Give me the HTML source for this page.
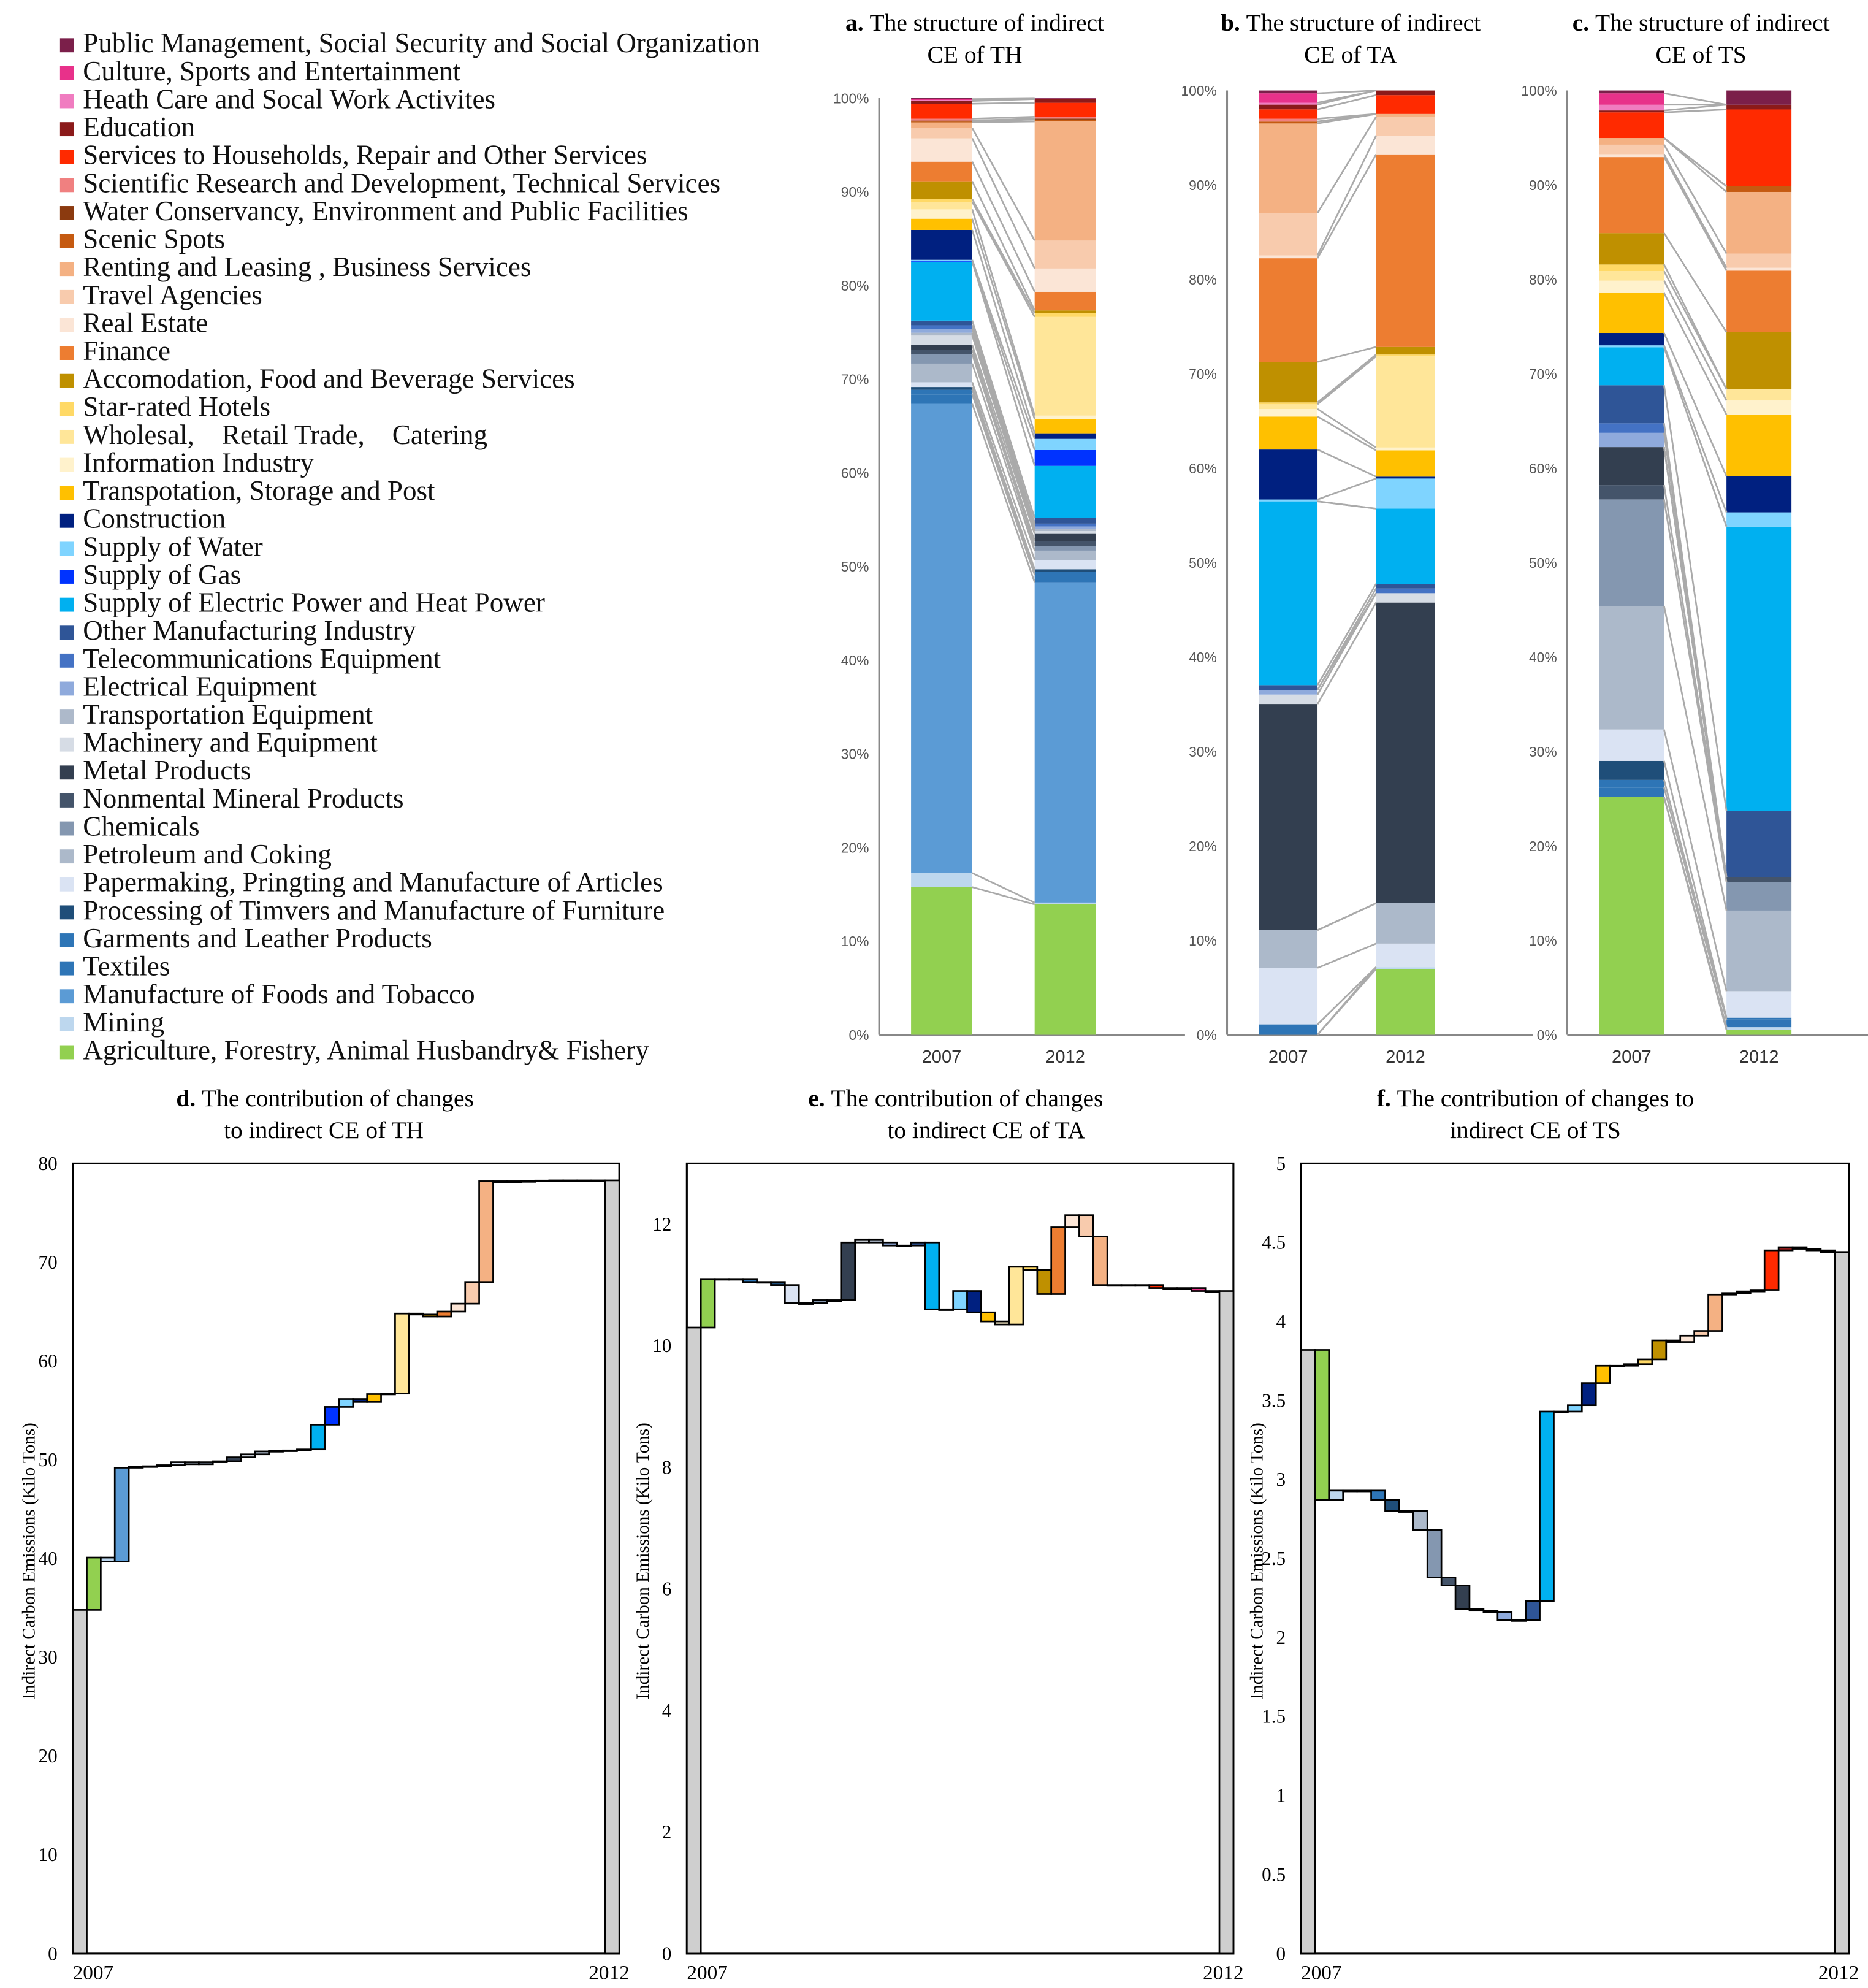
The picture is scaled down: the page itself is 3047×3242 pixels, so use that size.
<!DOCTYPE html>
<html><head><meta charset="utf-8"><style>
html,body{margin:0;padding:0;background:#fff;}
svg{display:block;}
.ser{font-family:"Liberation Serif",serif;}
.san{font-family:"Liberation Sans",sans-serif;}
</style></head><body>
<svg id="root" xmlns="http://www.w3.org/2000/svg" width="3047" height="3242" viewBox="0 0 1466 1560">
<rect x="0" y="0" width="1466" height="1560" fill="#fff"/>
<g id="legend"></g><g id="stacks"></g><g id="falls"></g>
</svg>
<script>
const sectors=["Agriculture, Forestry, Animal Husbandry& Fishery","Mining","Manufacture of Foods and Tobacco","Textiles","Garments and Leather Products","Processing of Timvers and Manufacture of Furniture","Papermaking, Pringting and Manufacture of Articles","Petroleum and Coking","Chemicals","Nonmental Mineral Products","Metal Products","Machinery and Equipment","Transportation Equipment","Electrical Equipment","Telecommunications Equipment","Other Manufacturing Industry","Supply of Electric Power and Heat Power","Supply of Gas","Supply of Water","Construction","Transpotation, Storage and Post","Information Industry","Wholesal,　Retail Trade,　Catering","Star-rated Hotels","Accomodation, Food and Beverage Services","Finance","Real Estate","Travel Agencies","Renting and Leasing , Business Services","Scenic Spots","Water Conservancy, Environment and Public Facilities","Scientific Research and Development, Technical Services","Services to Households, Repair and Other Services","Education","Heath Care and Socal Work Activites","Culture, Sports and Entertainment","Public Management, Social Security and Social Organization"];
const colors=["#92D050","#BDD7EE","#5B9BD5","#2E75B6","#2E75B6","#1F4E79","#DAE3F3","#ACB9CA","#8497B0","#44546A","#333F50","#D6DCE5","#ADB9CA","#8FAADC","#4472C4","#2F5597","#00B0F0","#0033FF","#7FD4FF","#002080","#FFC000","#FFF2CC","#FFE699","#FFD966","#BF9000","#ED7D31","#FBE5D6","#F8CBAD","#F4B183","#C55A11","#8B3A0F","#F08080","#FF2A00","#8B1A1A","#F07CC0","#E8318A","#7B1F4A"];
const th2007=[15.8,1.5,50.2,1.0,0.5,0.3,0.5,2.0,1.0,0.5,0.5,1.0,0.3,0.4,0.4,0.5,6.3,0.1,0.1,3.2,1.2,1.0,0.8,0.3,1.9,2.1,2.5,1.1,0.6,0.1,0.1,0.2,1.6,0.3,0.1,0.1,0.1];
const th2012=[14.0,0.2,34.4,0.8,0.3,0.3,1.0,1.0,0.5,0.5,0.8,0.3,0.2,0.3,0.3,0.6,5.6,1.7,1.2,0.6,1.5,0.4,10.6,0.4,0.3,2.0,2.5,3.0,12.8,0.2,0.1,0.2,1.5,0.4,0,0.05,0.05];
const ta2007=[0,0,0,1.1,0,0,6,4,0,0,24,1,0,0.5,0,0.5,19.5,0,0.2,5.3,3.5,0.8,0.5,0.2,4.3,11,0.3,4.5,9.5,0.2,0,0.3,1.0,0.5,0.2,1.0,0.3];
const ta2012=[7.0,0.2,0,0,0,0,2.5,4.3,0,0,32,1.0,0,0,0.5,0.5,8.0,0,3.2,0.2,2.8,0.3,9.7,0.2,0.8,20.5,2.0,2.0,0.3,0,0,0,2.0,0.5,0,0,0];
const ts2007=[25,0,0,1.0,0.8,2.0,3.3,13,11.2,1.5,4,0,0,1.5,1.0,4.0,4.0,0,0.2,1.3,4.2,1.3,1.0,0.7,3.3,8,0.3,1.0,0.7,0,0,0,2.7,0.2,0.6,1.2,0.3];
const ts2012=[0.5,0.3,0,0.8,0.2,0,2.8,8.5,3,0.5,0,0,0,0,0,7,30,0,1.5,3.8,6.5,1.5,1.2,0,6,6.5,0.3,1.5,6.5,0.6,0,0,8.1,0.5,0,0,1.5];
const pctTicks=["0%","10%","20%","30%","40%","50%","60%","70%","80%","90%","100%"];
const years=["2007","2012"];
const dStart=34.8;
const dDeltas=[5.3,-0.4,9.5,0.1,0.05,0.1,0.3,-0.2,0.2,0.1,0.4,0.3,0.3,0.05,0.05,0.1,2.5,1.8,0.8,-0.3,0.8,0.05,8.1,-0.1,-0.2,0.5,0.8,2.2,10.2,0,0,0.02,0.05,0.02,0,0,0];
const eStart=10.3;
const eDeltas=[0.8,0,0,-0.05,0,-0.05,-0.3,0,0.05,0,0.95,0.05,-0.05,-0.05,0,0.05,-1.1,0,0.3,-0.35,-0.15,-0.05,0.95,-0.05,-0.4,1.1,0.2,-0.35,-0.8,0,0,0,-0.05,0,0,-0.05,0];
const fStart=3.82;
const fDeltas=[-0.95,0.06,0,0,-0.06,-0.07,0,-0.12,-0.3,-0.05,-0.15,-0.01,-0.01,-0.05,0,0.12,1.2,0,0.04,0.14,0.11,0,0.01,0.03,0.12,-0.01,0.04,0.03,0.23,0.01,0.01,0.01,0.25,0.02,-0.01,-0.01,-0.01];
const dTicks=[0,10,20,30,40,50,60,70,80];
const eTicks=[0,2,4,6,8,10,12];
const fTicks=[0,0.5,1,1.5,2,2.5,3,3.5,4,4.5,5];

const NS="http://www.w3.org/2000/svg";
function mk(parent,tag,attrs,text){const e=document.createElementNS(NS,tag);for(const k in attrs)e.setAttribute(k,attrs[k]);if(text!==undefined)e.textContent=text;parent.appendChild(e);return e;}

const lg=document.getElementById('legend');
for(let k=0;k<37;k++){
  const i=36-k; const y=36+k*21.95;
  const r=mk(lg,'rect',{x:47,y:y-6,width:11,height:11,fill:colors[i]});
  
  
  const t=mk(lg,'text',{x:65,y:y+5,'font-size':21.7,fill:'#111',class:'ser'},sectors[i]);
  
  
}

const sg=document.getElementById('stacks');
function stacked(cfg){
  const g=mk(sg,'g',{});
  
  
  const t1=mk(g,'text',{x:cfg.tx,y:cfg.ty,'font-size':19,'text-anchor':'middle',class:'ser'});
  
  
  mk(t1,'tspan',{'font-weight':'bold'},cfg.letter+' ');
  mk(t1,'tspan',{},cfg.t1);
  const t2=mk(g,'text',{x:cfg.tx,y:cfg.ty+25,'font-size':19,'text-anchor':'middle',class:'ser'},cfg.t2);
  
  
  const y=v=>cfg.y0-(cfg.y0-cfg.y1)*v/100;
  pctTicks.forEach((lab,j)=>{
    const tt=mk(g,'text',{x:cfg.ax-8,y:y(j*10)+4,'font-size':11,'text-anchor':'end',fill:'#555',class:'san'},lab);
    
    
  });
  const ax=mk(g,'line',{x1:cfg.ax,y1:cfg.y1,x2:cfg.ax,y2:cfg.y0,stroke:'#888','stroke-width':1.5});
  
  
  const bx=mk(g,'line',{x1:cfg.ax,y1:cfg.y0,x2:cfg.ax+240,y2:cfg.y0,stroke:'#888','stroke-width':1.5});
  
  
  const tops=[];
  [cfg.a,cfg.b].forEach((arr,c)=>{
    const sum=arr.reduce((s,v)=>s+v,0);let acc=0;const tp=[];
    const x=cfg.bx[c];
    arr.forEach((v,i)=>{
      const v0=acc/sum*100;acc+=v;const v1=acc/sum*100;tp.push(v1);
      if(v>0){const r=mk(g,'rect',{x:x,y:y(v1),width:cfg.bw,height:y(v0)-y(v1),fill:colors[i]});
        
        }
    });
    tops.push(tp);
    const yl=mk(g,'text',{x:x+cfg.bw/2,y:cfg.y0+22,'font-size':14,'text-anchor':'middle',fill:'#333',class:'san'},years[c]);
    
    
  });
  for(let i=0;i<36;i++){
    const l=mk(g,'line',{x1:cfg.bx[0]+cfg.bw,y1:y(tops[0][i]),x2:cfg.bx[1],y2:y(tops[1][i]),stroke:'#aaa','stroke-width':1.3});
    
    
  }
}
stacked({name:'chart-a',letter:'a.',t1:'The structure of  indirect',t2:'CE of TH',tx:765,ty:24,a:th2007,b:th2012,y0:812,y1:77,ax:690,bx:[715,812],bw:48});
stacked({name:'chart-b',letter:'b.',t1:'The structure of  indirect',t2:'CE of TA',tx:1060,ty:24,a:ta2007,b:ta2012,y0:812,y1:71,ax:963,bx:[988,1080],bw:46});
stacked({name:'chart-c',letter:'c.',t1:'The structure of  indirect',t2:'CE of TS',tx:1335,ty:24,a:ts2007,b:ts2012,y0:812,y1:71,ax:1230,bx:[1255,1355],bw:51});

const fg=document.getElementById('falls');
function fall(cfg){
  const g=mk(fg,'g',{});
  
  
  const t1=mk(g,'text',{x:cfg.tx,y:868,'font-size':19,'text-anchor':'middle',class:'ser'});
  
  
  mk(t1,'tspan',{'font-weight':'bold'},cfg.letter+' ');
  mk(t1,'tspan',{},cfg.t1);
  const t2=mk(g,'text',{x:cfg.tx2,y:893,'font-size':19,'text-anchor':'middle',class:'ser'},cfg.t2);
  
  
  const x0=cfg.x0,x1=cfg.x1,Y0=1533,Y1=913;
  const y=v=>Y0-(Y0-Y1)*v/cfg.max;
  const fr=mk(g,'rect',{x:x0,y:Y1,width:x1-x0,height:Y0-Y1,fill:'none',stroke:'#000','stroke-width':1.5});
  
  
  cfg.ticks.forEach(v=>{
    const tt=mk(g,'text',{x:x0-12,y:y(v)+5,'font-size':15,'text-anchor':'end',class:'ser'},String(v));
    
    
  });
  const yt=mk(g,'text',{x:0,y:0,'font-size':14,'text-anchor':'middle',class:'ser',transform:`translate(${x0-30},1225) rotate(-90)`},'Indirect Carbon Emissions (Kilo Tons)');
  
  
  const sw=(x1-x0-22)/37;
  const sb=mk(g,'rect',{x:x0,y:y(cfg.start),width:11,height:Y0-y(cfg.start),fill:'#cfcfcf',stroke:'#000','stroke-width':1.3});
  
  
  let cur=cfg.start;
  cfg.deltas.forEach((d,i)=>{
    const nx=cur+d;const xa=x0+11+sw*i;
    const top=y(Math.max(cur,nx)),bot=y(Math.min(cur,nx));
    const r=mk(g,'rect',{x:xa,y:top,width:sw,height:Math.max(bot-top,0.6),fill:colors[i],stroke:'#000','stroke-width':1.3});
    
    
    cur=nx;
  });
  const eb=mk(g,'rect',{x:x1-11,y:y(cur),width:11,height:Y0-y(cur),fill:'#cfcfcf',stroke:'#000','stroke-width':1.3});
  
  
  const a=mk(g,'text',{x:x0,y:1553,'font-size':16,class:'ser'},'2007');
  
  
  const b=mk(g,'text',{x:x1+8,y:1553,'font-size':16,'text-anchor':'end',class:'ser'},'2012');
  
  
}
fall({name:'chart-d',letter:'d.',t1:'The contribution of changes',t2:'to indirect CE of TH',tx:255,tx2:254,x0:57,x1:486,max:80,ticks:dTicks,start:dStart,deltas:dDeltas});
fall({name:'chart-e',letter:'e.',t1:'The contribution of changes',t2:'to indirect CE of TA',tx:750,tx2:774,x0:539,x1:968,max:13,ticks:eTicks,start:eStart,deltas:eDeltas});
fall({name:'chart-f',letter:'f.',t1:'The contribution of changes to',t2:'indirect CE of TS',tx:1205,tx2:1205,x0:1021,x1:1451,max:5,ticks:fTicks,start:fStart,deltas:fDeltas});
</script>
</body></html>
